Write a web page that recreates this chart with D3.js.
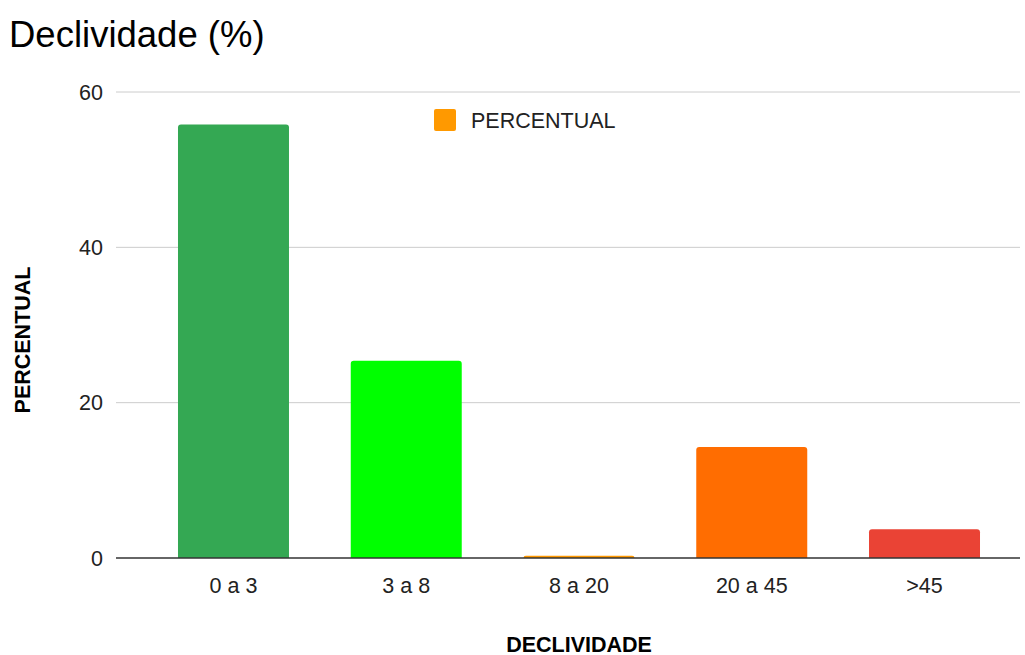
<!DOCTYPE html>
<html>
<head>
<meta charset="utf-8">
<script src="https://cdn.jsdelivr.net/npm/d3@7"></script>
<style>
  body { margin: 0; background: #fff; }
  text { font-family: "Liberation Sans", Arial, sans-serif; }
</style>
</head>
<body>
<svg id="chart" width="1025" height="655"></svg>
<script>
const categories = ["0 a 3", "3 a 8", "8 a 20", "20 a 45", ">45"];
const values = [55.8, 25.4, 0.3, 14.3, 3.7];
const barColors = ["#34a853", "#00ff00", "#ff9900", "#ff6d01", "#ea4335"];
const yTicks = [0, 20, 40, 60];

const svg = d3.select("#chart");

const x = d3.scaleBand()
    .domain(categories)
    .range([146.9, 1011.1])
    .paddingInner(0.3575)
    .paddingOuter(0.18);

const y = d3.scaleLinear()
    .domain([0, 60])
    .range([558, 92]);

// grid lines
svg.append("g")
    .selectAll("line")
    .data(yTicks.filter(d => d > 0))
    .join("line")
    .attr("x1", 116).attr("x2", 1020)
    .attr("y1", d => y(d)).attr("y2", d => y(d))
    .attr("stroke", "#cccccc")
    .attr("stroke-width", 1);

// y tick labels
svg.append("g")
    .selectAll("text")
    .data(yTicks)
    .join("text")
    .attr("x", 103)
    .attr("y", d => y(d))
    .attr("dy", "0.35em")
    .attr("text-anchor", "end")
    .attr("font-size", 21.5)
    .attr("fill", "#222")
    .text(d => d);

// bars with rounded top corners
function barPath(x0, y0, w, h, r) {
    r = Math.min(r, h, w / 2);
    return `M${x0},${y0 + h}V${y0 + r}Q${x0},${y0} ${x0 + r},${y0}H${x0 + w - r}Q${x0 + w},${y0} ${x0 + w},${y0 + r}V${y0 + h}Z`;
}

svg.append("g")
    .selectAll("path")
    .data(categories)
    .join("path")
    .attr("d", (d, i) => barPath(x(d), y(values[i]), x.bandwidth(), y(0) - y(values[i]), 3))
    .attr("fill", (d, i) => barColors[i]);

// baseline
svg.append("line")
    .attr("x1", 116).attr("x2", 1020)
    .attr("y1", y(0)).attr("y2", y(0))
    .attr("stroke", "#333")
    .attr("stroke-width", 1.5);

// x tick labels
svg.append("g")
    .selectAll("text")
    .data(categories)
    .join("text")
    .attr("x", d => x(d) + x.bandwidth() / 2)
    .attr("y", 593)
    .attr("text-anchor", "middle")
    .attr("font-size", 21.5)
    .attr("fill", "#222")
    .text(d => d);

// title
svg.append("text")
    .attr("x", 9).attr("y", 47)
    .attr("font-size", 36.5)
    .attr("fill", "#000")
    .text("Declividade (%)");

// legend
svg.append("rect")
    .attr("x", 434).attr("y", 109)
    .attr("width", 22).attr("height", 22)
    .attr("rx", 2)
    .attr("fill", "#ff9900");
svg.append("text")
    .attr("x", 471).attr("y", 128)
    .attr("font-size", 21.5)
    .attr("fill", "#222")
    .text("PERCENTUAL");

// axis titles
svg.append("text")
    .attr("transform", "translate(30,340) rotate(-90)")
    .attr("text-anchor", "middle")
    .attr("font-size", 21.5)
    .attr("font-weight", "bold")
    .attr("fill", "#000")
    .text("PERCENTUAL");

svg.append("text")
    .attr("x", 579).attr("y", 652)
    .attr("text-anchor", "middle")
    .attr("font-size", 21.5)
    .attr("font-weight", "bold")
    .attr("fill", "#000")
    .text("DECLIVIDADE");
</script>
</body>
</html>
